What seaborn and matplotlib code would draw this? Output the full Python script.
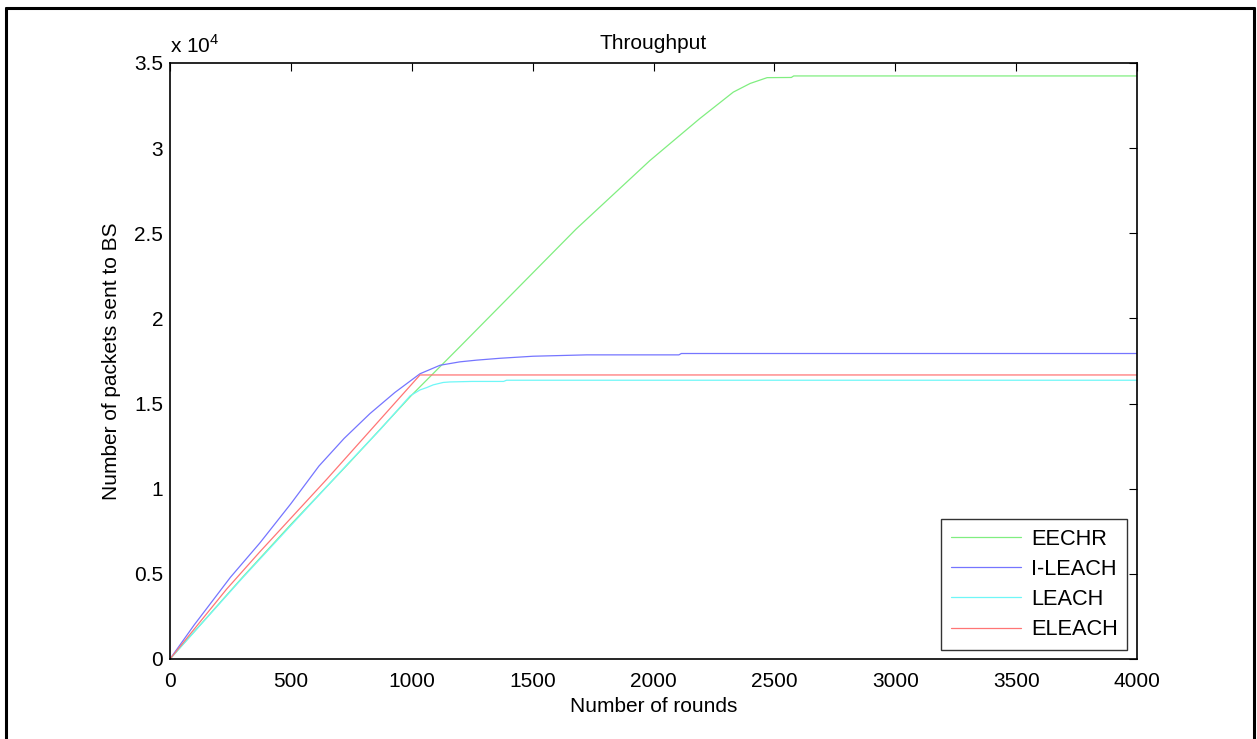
import matplotlib
matplotlib.use("Agg")
import matplotlib.pyplot as plt
import seaborn as sns
import pandas as pd
from matplotlib.ticker import FuncFormatter, MultipleLocator
from matplotlib.lines import Line2D

# ---- data ----
eechr_rounds = [0, 100, 300, 500, 740, 870, 1000, 1200, 1680, 1985, 2190, 2330, 2400, 2470, 2570, 2580, 4000]
eechr_packets = [0, 1600, 4800, 7900, 11500, 13500, 15500, 18350, 25250, 29270, 31720, 33290, 33800, 34140, 34150, 34240, 34240]

ileach_rounds = [0, 100, 250, 372, 500, 616, 720, 827, 930, 1034, 1117, 1199, 1268, 1365, 1502, 1723, 2105, 2115, 4000]
ileach_packets = [0, 2000, 4800, 6820, 9120, 11330, 12950, 14410, 15650, 16750, 17250, 17450, 17550, 17660, 17780, 17860, 17860, 17940, 17940]

leach_rounds = [0, 296, 738, 868, 993, 1034, 1062, 1089, 1130, 1158, 1250, 1380, 1392, 4000]
leach_packets = [0, 4700, 11500, 13450, 15450, 15800, 15940, 16100, 16240, 16270, 16300, 16300, 16370, 16370]

eleach_rounds = [0, 234, 372, 648, 1034, 4000]
eleach_packets = [0, 4100, 6300, 10550, 16680, 16680]

protocols = ["EECHR", "I-LEACH", "LEACH", "ELEACH"]
colors = ["#80ee80", "#7575ff", "#6ff7f7", "#ff7575"]

frames = []
for name, r, p in [("EECHR", eechr_rounds, eechr_packets),
                   ("I-LEACH", ileach_rounds, ileach_packets),
                   ("LEACH", leach_rounds, leach_packets),
                   ("ELEACH", eleach_rounds, eleach_packets)]:
    frames.append(pd.DataFrame({"round": r, "packets": p, "protocol": name}))
df = pd.concat(frames, ignore_index=True)

sns.set_style("white")
plt.rcParams["font.family"] = ["Liberation Sans", "DejaVu Sans"]
plt.rcParams["mathtext.fontset"] = "custom"
plt.rcParams["mathtext.rm"] = "Liberation Sans"
plt.rcParams["text.color"] = "black"
plt.rcParams["axes.labelcolor"] = "black"
plt.rcParams["xtick.color"] = "black"
plt.rcParams["ytick.color"] = "black"

fs = 15
fig = plt.figure(figsize=(12.57, 7.39), dpi=100)
ax = fig.add_axes([170 / 1257, 1 - 659 / 739, (1137 - 170) / 1257, (659 - 63) / 739])

sns.lineplot(data=df, x="round", y="packets", hue="protocol", hue_order=protocols,
             palette=dict(zip(protocols, colors)), estimator=None, sort=False,
             linewidth=0.9, ax=ax, legend=False)

ax.set_xlim(0, 4000)
ax.set_ylim(0, 35000)
ax.xaxis.set_major_locator(MultipleLocator(500))
ax.yaxis.set_major_locator(MultipleLocator(5000))
ax.yaxis.set_major_formatter(FuncFormatter(lambda v, _: "%g" % (v / 1e4)))
ax.tick_params(direction="in", length=6, width=0.8, top=True, right=True,
               labelsize=fs, colors="black", pad=5)
ax.tick_params(axis="x", pad=9.5)
for s in ax.spines.values():
    s.set_visible(True)
    s.set_color("black")
    s.set_linewidth(1.2)

ax.set_xlabel("Number of rounds", fontsize=fs, labelpad=4, color="black")
ax.set_ylabel("Number of packets sent to BS", fontsize=fs, labelpad=9, color="black")
ax.set_title("Throughput", fontsize=fs, pad=10, color="black")
ax.text(0.0, 1.01, r"x 10$^{4}$", transform=ax.transAxes, fontsize=fs,
        ha="left", va="bottom", color="black")

handles = [Line2D([0], [0], color=c, linewidth=0.9) for c in colors]
leg = ax.legend(handles, protocols, loc="lower right", bbox_to_anchor=(0.99, 0.015),
                fontsize=15.7, frameon=True, fancybox=False, handlelength=3.2,
                handletextpad=0.45, labelspacing=0.42, borderpad=0.45, borderaxespad=0)
leg.get_frame().set_edgecolor("black")
leg.get_frame().set_linewidth(1.0)
for t in leg.get_texts():
    t.set_color("black")

# figure border
fig.add_artist(Line2D([6 / 1257, 6 / 1257], [0, 1 - 8 / 739], transform=fig.transFigure, color="black", lw=2.2))
fig.add_artist(Line2D([6 / 1257, 1254 / 1257], [1 - 8 / 739, 1 - 8 / 739], transform=fig.transFigure, color="black", lw=2.2))
fig.add_artist(Line2D([1254 / 1257, 1254 / 1257], [0, 1 - 8 / 739], transform=fig.transFigure, color="black", lw=2.2))

fig.savefig("out.png", dpi=100, facecolor="white")
